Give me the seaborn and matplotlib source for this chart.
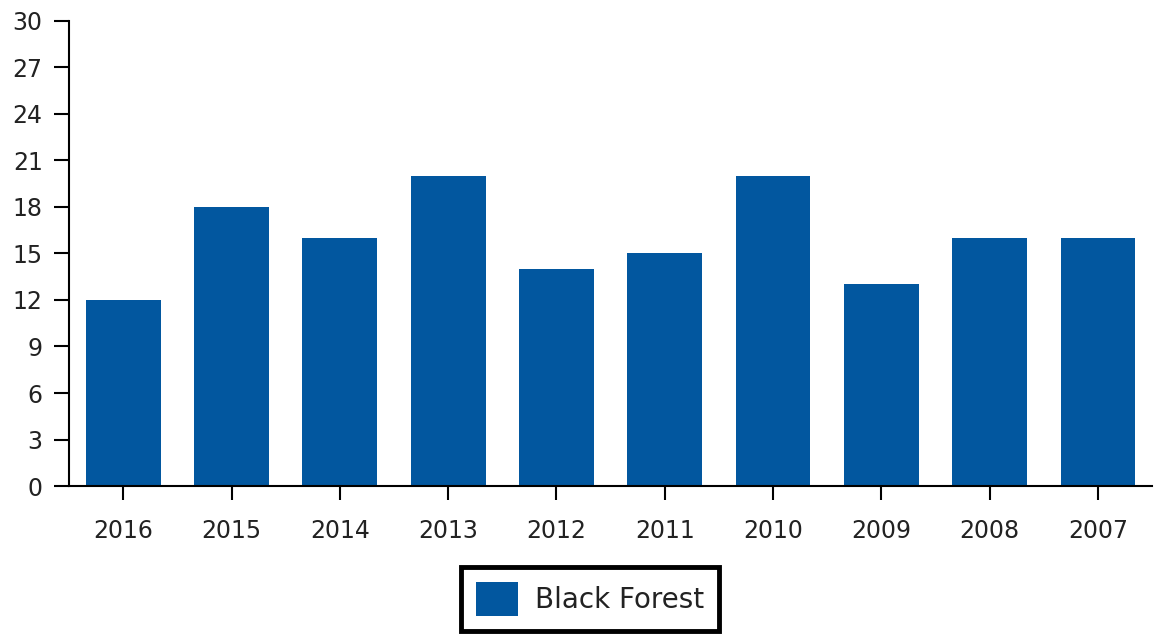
import matplotlib
matplotlib.use("Agg")
import matplotlib.pyplot as plt
import seaborn as sns
import pandas as pd

# =========================
# DATA
# =========================
years = ["2016", "2015", "2014", "2013", "2012", "2011", "2010", "2009", "2008", "2007"]
values = [12, 18, 16, 20, 14, 15, 20, 13, 16, 16]
series_name = "Black Forest"
y_ticks = [0, 3, 6, 9, 12, 15, 18, 21, 24, 27, 30]

bar_color = "#02579f"

df = pd.DataFrame({"year": years, "value": values, "series": series_name})

sns.set_style("ticks")
plt.rcParams["font.family"] = ["DejaVu Sans"]

fig = plt.figure(figsize=(11.66, 6.34), dpi=100)
ax = fig.add_axes([0.0592, 0.2334, 0.929, 0.7336])

sns.barplot(data=df, x="year", y="value", hue="series", palette=[bar_color],
            width=0.69, saturation=1, ax=ax, edgecolor="none")

ax.set_ylim(0, 30)
ax.set_xlim(-0.5, len(years) - 0.5)
ax.set_yticks(y_ticks)
ax.set_xlabel("")
ax.set_ylabel("")

for s in ["top", "right"]:
    ax.spines[s].set_visible(False)
for s in ["left", "bottom"]:
    ax.spines[s].set_linewidth(1.5)
    ax.spines[s].set_color("black")

ax.tick_params(axis="both", which="both", direction="out", length=11, width=1.5,
               color="black", labelsize=17, labelcolor="#222222",
               left=True, bottom=True)
ax.tick_params(axis="y", pad=8)
ax.tick_params(axis="x", pad=14, length=10)

# legend below
ax.get_legend().remove()
handles, labels = ax.get_legend_handles_labels()
leg = fig.legend(handles, labels, loc="center", bbox_to_anchor=(0.506, 0.055),
                 fontsize=20, frameon=True, fancybox=False, handlelength=1.5,
                 handleheight=1.5, borderpad=0.55, handletextpad=0.6,
                 borderaxespad=0, framealpha=1)
leg.get_frame().set_edgecolor("black")
leg.get_frame().set_linewidth(3.5)
for t in leg.get_texts():
    t.set_color("#222222")

plt.savefig("out.png", dpi=100)
